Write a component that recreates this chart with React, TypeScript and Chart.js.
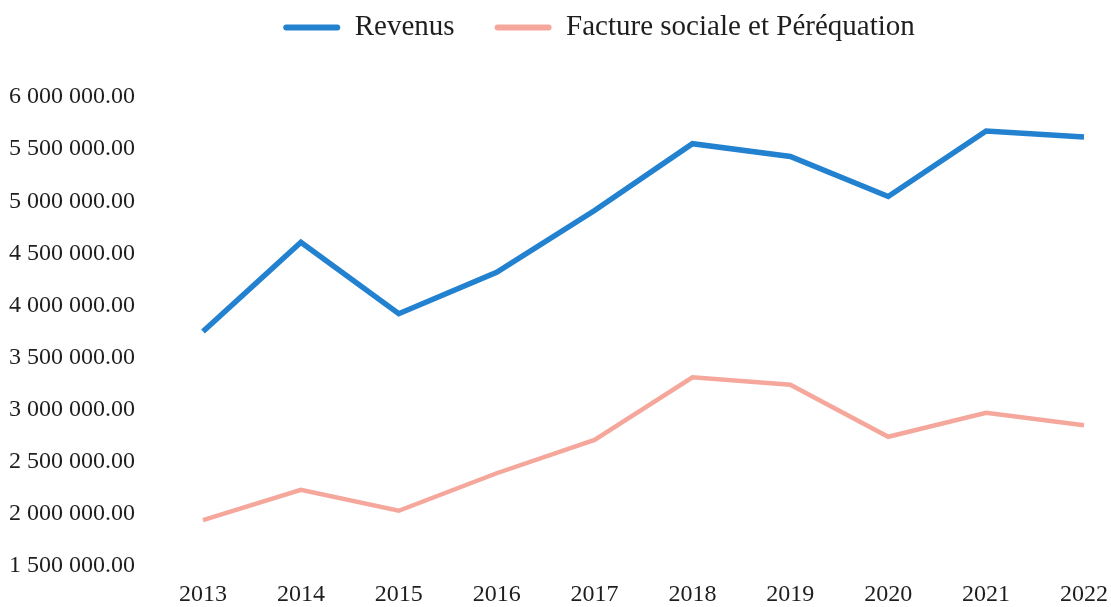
import React, { useEffect, useRef } from "react";
import { Chart, registerables } from "chart.js";

Chart.register(...registerables);

const years = ["2013", "2014", "2015", "2016", "2017", "2018", "2019", "2020", "2021", "2022"];
const revenus = [3750000, 4607000, 3921000, 4318000, 4911000, 5552000, 5430000, 5046000, 5673000, 5616000];
const factureSociale = [1940000, 2230000, 2030000, 2390000, 2710000, 3310000, 3240000, 2740000, 2970000, 2850000];
const seriesLabels = ["Revenus", "Facture sociale et Péréquation"];
const yTicks = { min: 1500000, max: 6000000, step: 500000 };

const FONT = "'Liberation Serif', 'Times New Roman', serif";

function fmt(v: number): string {
  const s = Math.round(v).toString().replace(/\B(?=(\d{3})+(?!\d))/g, " ");
  return s + ".00";
}

const legendTweak = {
  id: "legendTweak",
  beforeLayout(chart: any) {
    const lg = chart.legend;
    if (lg && !lg._patchedFit) {
      const orig = lg.fit.bind(lg);
      lg.fit = function () {
        orig();
        this.height = 97;
      };
      lg._patchedFit = true;
    }
  },
  afterLayout(chart: any) {
    const lg = chart.legend;
    if (!lg) return;
    lg.top = -27;
    lg.bottom = lg.top + lg.height;
    lg.left += 57;
    lg.right += 57;
  },
};

export default function App() {
  const ref = useRef<HTMLCanvasElement | null>(null);

  useEffect(() => {
    if (!ref.current) return;
    Chart.defaults.font.family = FONT;
    const chart = new Chart(ref.current, {
      type: "line",
      data: {
        labels: years,
        datasets: [
          {
            label: seriesLabels[0],
            data: revenus,
            borderColor: "#2382d0",
            backgroundColor: "#2382d0",
            borderWidth: 5.5,
            pointRadius: 0,
            tension: 0,
          },
          {
            label: seriesLabels[1],
            data: factureSociale,
            borderColor: "#f5a79c",
            backgroundColor: "#f5a79c",
            borderWidth: 4.5,
            pointRadius: 0,
            tension: 0,
          },
        ],
      },
      options: {
        animation: false,
        responsive: false,
        maintainAspectRatio: false,
        devicePixelRatio: 1,
        layout: { padding: { left: 0, right: 27, top: 0, bottom: 0 } },
        plugins: {
          tooltip: { enabled: false },
          legend: {
            display: true,
            position: "top",
            labels: {
              boxWidth: 57,
              boxHeight: 6,
              padding: 40,
              color: "#1e1e1e",
              font: { size: 29, family: FONT },
              generateLabels: (c: any) => {
                const items = Chart.defaults.plugins.legend.labels.generateLabels(c);
                return items.map((it: any) => ({
                  ...it,
                  lineWidth: 0,
                  fillStyle: it.strokeStyle,
                  borderRadius: 3,
                }));
              },
            },
          },
        },
        scales: {
          x: {
            type: "category",
            offset: false,
            grid: { display: false, drawTicks: false },
            border: { display: false },
            ticks: { color: "#1e1e1e", font: { size: 24, family: FONT }, padding: 14, maxRotation: 0 },
            afterFit: (scale: any) => {
              scale.height = 41;
              scale.paddingLeft = 0;
              scale.paddingRight = 0;
            },
          },
          y: {
            min: yTicks.min,
            max: yTicks.max,
            grid: { display: false, drawTicks: false },
            border: { display: false },
            ticks: {
              stepSize: yTicks.step,
              color: "#1e1e1e",
              padding: 68,
              font: { size: 24, family: FONT },
              callback: (v: any) => fmt(Number(v)),
            },
            afterFit: (scale: any) => {
              scale.width = 203;
              scale.paddingTop = 0;
              scale.paddingBottom = 0;
            },
          },
        },
      },
      plugins: [legendTweak],
    });
    return () => chart.destroy();
  }, []);

  return (
    <div style={{ position: "fixed", left: 0, top: 0, width: 1111, height: 607, background: "#fff" }}>
      <canvas ref={ref} width={1111} height={607} style={{ display: "block", width: 1111, height: 607 }} />
    </div>
  );
}
